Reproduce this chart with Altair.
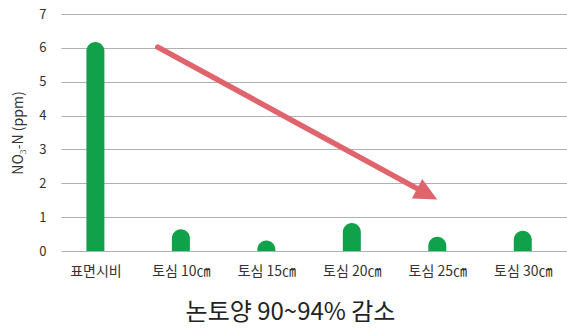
import altair as alt
import pandas as pd

# NO3-N concentration by fertilizer placement depth
categories = ["표면시비", "토심 10㎝", "토심 15㎝", "토심 20㎝", "토심 25㎝", "토심 30㎝"]
no3_ppm = [6.17, 0.64, 0.31, 0.83, 0.42, 0.60]
y_ticks = [0, 1, 2, 3, 4, 5, 6, 7]

# Trend arrow (x in category index units, y in ppm)
arrow_x = [0.73, 4.0]
arrow_y = [6.02, 1.52]

FONT = "Noto Sans CJK KR"
GREEN = "#12a14b"
RED = "#e0646c"

bars_df = pd.DataFrame({"idx": list(range(len(categories))), "label": categories, "ppm": no3_ppm})

# line ends a little short of the tip so the head covers the join
frac = 0.93
line_df = pd.DataFrame({
    "idx": [arrow_x[0], arrow_x[0] + frac * (arrow_x[1] - arrow_x[0])],
    "ppm": [arrow_y[0], arrow_y[0] + frac * (arrow_y[1] - arrow_y[0])],
})
head_df = pd.DataFrame({"idx": [arrow_x[1]], "ppm": [arrow_y[1]]})

label_expr = "[" + ",".join(f"'{c}'" for c in categories) + "][datum.value]"

x_scale = alt.Scale(domain=[-0.344, 5.459], nice=False, zero=False)
y_scale = alt.Scale(domain=[0, 7], nice=False)

x_axis = alt.Axis(
    values=list(range(len(categories))), labelExpr=label_expr,
    grid=False, domain=False, ticks=False,
    labelFont=FONT, labelFontSize=14, labelColor="#333333", labelPadding=13,
    title="논토양 90~94% 감소", titleFont=FONT, titleFontSize=24,
    titleFontWeight="normal", titleColor="#222222", titlePadding=22,
    titleX=229, titleAnchor="start", titleAlign="center",
)
y_axis = alt.Axis(
    values=y_ticks, grid=True, gridColor="#b0b0b0", gridWidth=1.2,
    domain=False, ticks=False, labelOverlap=False,
    labelFont=FONT, labelFontSize=13, labelColor="#333333", labelPadding=15,
    title="NO₃-N (ppm)", titleFont=FONT, titleFontSize=14,
    titleFontWeight="normal", titleColor="#333333", titlePadding=13,
)

X = alt.X("idx:Q", scale=x_scale, axis=x_axis)
Y = alt.Y("ppm:Q", scale=y_scale, axis=y_axis)

# bars start below the baseline and are clipped there, so even short
# bars keep a full rounded cap
bars = alt.Chart(bars_df).mark_bar(
    size=18, color=GREEN, cornerRadiusTopLeft=9, cornerRadiusTopRight=9, clip=True
).encode(x=X, y=Y, y2=alt.datum(-0.6))

line = alt.Chart(line_df).mark_line(
    color=RED, strokeWidth=5.5, strokeCap="round"
).encode(x=X, y=Y)

head = alt.Chart(head_df).mark_point(
    shape="M0,0 L-1,-0.48 L-1,0.48 Z", filled=True, opacity=1,
    color=RED, size=2100, angle=28,
).encode(x=X, y=Y)

chart = alt.layer(bars, line, head).properties(
    width=506, height=237,
    padding={"left": 61, "top": 14, "right": 0, "bottom": 81},
    autosize=alt.AutoSizeParams(type="none"),
).configure_view(stroke=None)

chart.save("out.html", embed_options={"renderer": "svg", "actions": False})
